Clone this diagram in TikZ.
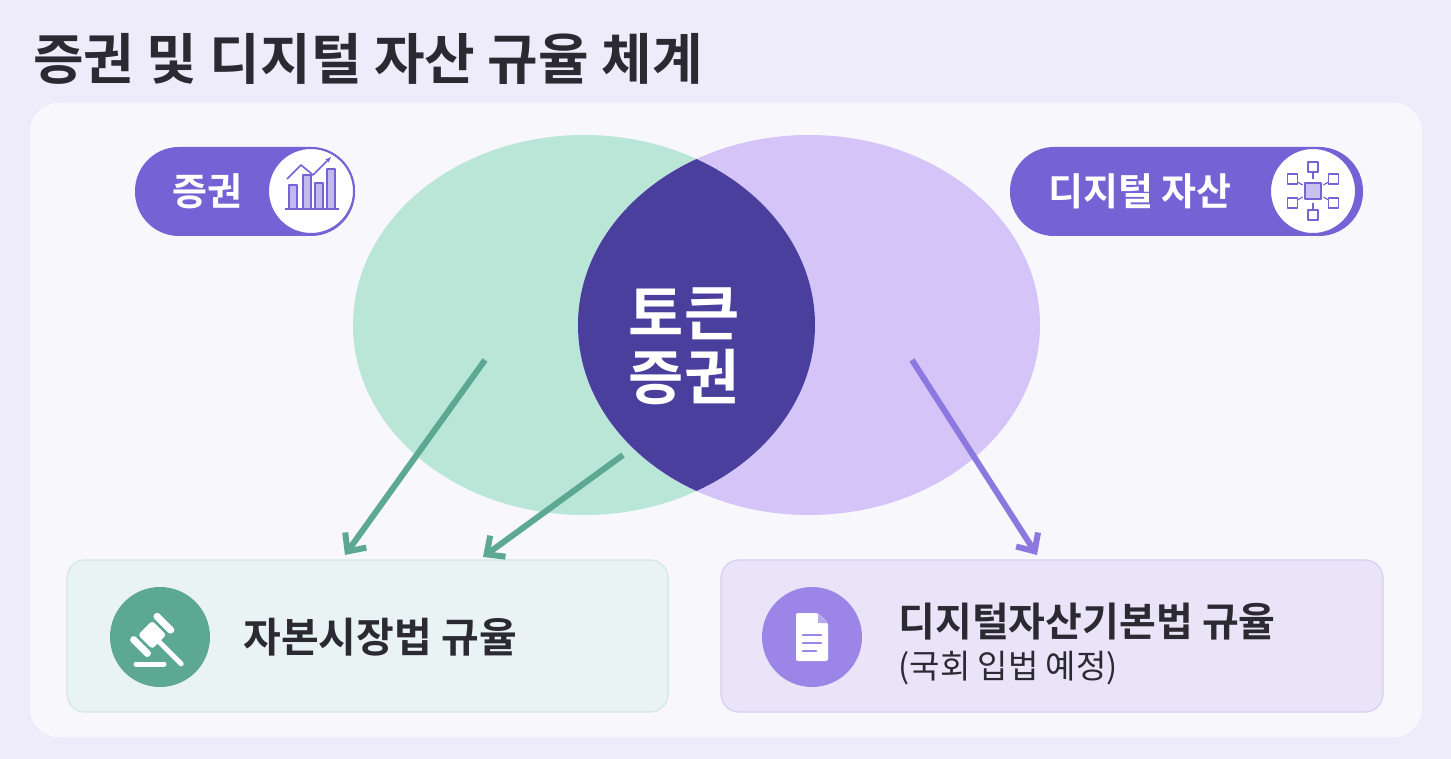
\documentclass[tikz,border=0pt]{standalone}
\usepackage{fontspec}
\setmainfont{Noto Sans CJK KR}[BoldFont={Noto Sans CJK KR Bold}]
\usetikzlibrary{arrows.meta,calc}
\definecolor{bg}{HTML}{EEEBFA}
\definecolor{panel}{HTML}{F8F7FC}
\definecolor{gE}{HTML}{B9E6D7}
\definecolor{pE}{HTML}{D5C4F8}
\definecolor{mid}{HTML}{4B3F9E}
\definecolor{pill}{HTML}{7563D6}
\definecolor{garr}{HTML}{5CA893}
\definecolor{parr}{HTML}{8C79E0}
\definecolor{txt}{HTML}{2B2A33}
\definecolor{pc}{HTML}{9B86E8}
\definecolor{gbox}{HTML}{EAF3F3}
\definecolor{gbord}{HTML}{D2E8E2}
\definecolor{pbox}{HTML}{E9E4F8}
\definecolor{pbord}{HTML}{D8CDF3}
\tikzset{
 arr/.style={line width=6pt,-{Straight Barb[length=14pt,width=26pt,line width=6pt]}},
 pillbox/.style={fill=pill,rounded corners=44pt,draw=none},
 icirc/.style={circle,fill=white,draw=pill,line width=2pt,minimum size=86pt,inner sep=0pt},
 ico/.style={draw=pill,line width=1.6pt,line join=round},
}
\begin{document}
\begin{tikzpicture}[x=1pt,y=-1pt]
\fill[bg] (0,0) rectangle (1451,759);
\useasboundingbox (0,0) rectangle (1451,759);
\node[anchor=base west,font=\bfseries\fontsize{55}{60}\selectfont,text=txt,inner sep=0] (title) at (33,80) {증권 및 디지털 자산 규율 체계};
\draw[fill=panel,rounded corners=30pt,draw=white] (30,103) rectangle (1422,737);
% ellipses
\fill[gE] (584,325) ellipse [x radius=231,y radius=190];
\fill[pE] (809,325) ellipse [x radius=231,y radius=190];
\begin{scope}
\clip (584,325) ellipse [x radius=231,y radius=190];
\fill[mid] (809,325) ellipse [x radius=231,y radius=190];
\end{scope}
\node[align=center,text=white,font=\bfseries\fontsize{60}{64}\selectfont] (tok) at (684,346) {토큰\\증권};
% pills
\fill[pillbox] (135,147) rectangle (355,236);
\node[icirc] (ic1) at (311,191) {};
\node[text=white,font=\bfseries\fontsize{38}{40}\selectfont] (p1) at (207,191) {증권};
\begin{scope}[shift={(311,191)}]
 \fill[pill!45] (-22,-6) rectangle (-14,18) (-8,-16) rectangle (0,18) (4,-8) rectangle (12,18) (16,-22) rectangle (24,18);
 \draw[ico] (-22,-6) rectangle (-14,18) (-8,-16) rectangle (0,18) (4,-8) rectangle (12,18) (16,-22) rectangle (24,18);
 \draw[ico] (-26,18) -- (28,18);
 \draw[ico,-{Stealth[length=6pt]}] (-24,-12) -- (-10,-26) -- (2,-16) -- (20,-34);
\end{scope}
\fill[pillbox] (1010,147) rectangle (1363,236);
\node[icirc] (ic2) at (1313,191) {};
\node[text=white,font=\bfseries\fontsize{38}{40}\selectfont] (p2) at (1140,191) {디지털 자산};
\begin{scope}[shift={(1313,191)}]
 \foreach \a in {90,150,210,270,330,30} {
   \draw[ico,line width=1.2pt] (\a:12) -- (\a:19);
   \draw[ico,line width=1.3pt,fill=white] ($(\a:24)+(-5,-5)$) rectangle ++(10,10);
 }
 \fill[pill!40] (-8,-8) rectangle (8,8);
 \draw[ico] (-8,-8) rectangle (8,8);
\end{scope}
% bottom boxes
\draw[fill=gbox,draw=gbord,line width=1.2pt,rounded corners=18pt] (67,560) rectangle (668,712);
\node[circle,fill=garr,minimum size=100pt,inner sep=0] (c1) at (160,637) {};
\begin{scope}[shift={(160,637)},rotate=45,white,line cap=round]
 \fill[white,rounded corners=3pt] (-14,-17) rectangle (6,3);
 \fill[white,rounded corners=3pt] (-24,-20) rectangle (-17,6);
 \fill[white,rounded corners=3pt] (9,-20) rectangle (16,6);
 \draw[line width=5pt] (-4,3) -- (-4,34);
\end{scope}
\draw[white,line width=5pt,line cap=round] (136,664) -- (164,664);
\node[anchor=west,text=txt,font=\bfseries\fontsize{41}{44}\selectfont] (t1) at (240,637) {자본시장법 규율};
\draw[fill=pbox,draw=pbord,line width=1.2pt,rounded corners=18pt] (721,560) rectangle (1383,712);
\node[circle,fill=pc,minimum size=100pt,inner sep=0] (c2) at (812,637) {};
\begin{scope}[shift={(812,637)}]
 \fill[white,rounded corners=2pt] (-16,-24) -- (6,-24) -- (16,-14) -- (16,24) -- (-16,24) -- cycle;
 \draw[pc,line width=2.5pt,line cap=round] (-9,-2) -- (9,-2) (-9,6) -- (9,6) (-9,14) -- (4,14);
 \fill[pc!70] (6,-24) -- (6,-14) -- (16,-14) -- cycle;
\end{scope}
\node[anchor=west,text=txt,font=\bfseries\fontsize{40}{44}\selectfont] (t2) at (895,622) {디지털자산기본법 규율};
\node[anchor=west,text=txt,font=\fontsize{33}{36}\selectfont] (t3) at (895,668) {(국회 입법 예정)};
% arrows
\coordinate (a1s) at (485,360); \coordinate (a1e) at (345,555);
\coordinate (a2s) at (623,455); \coordinate (a2e) at (483,557);
\coordinate (a3s) at (912,360); \coordinate (a3e) at (1037,555);
\draw[arr,garr] (a1s) -- (a1e);
\draw[arr,garr] (a2s) -- (a2e);
\draw[arr,parr] (a3s) -- (a3e);
\end{tikzpicture}
\end{document}
